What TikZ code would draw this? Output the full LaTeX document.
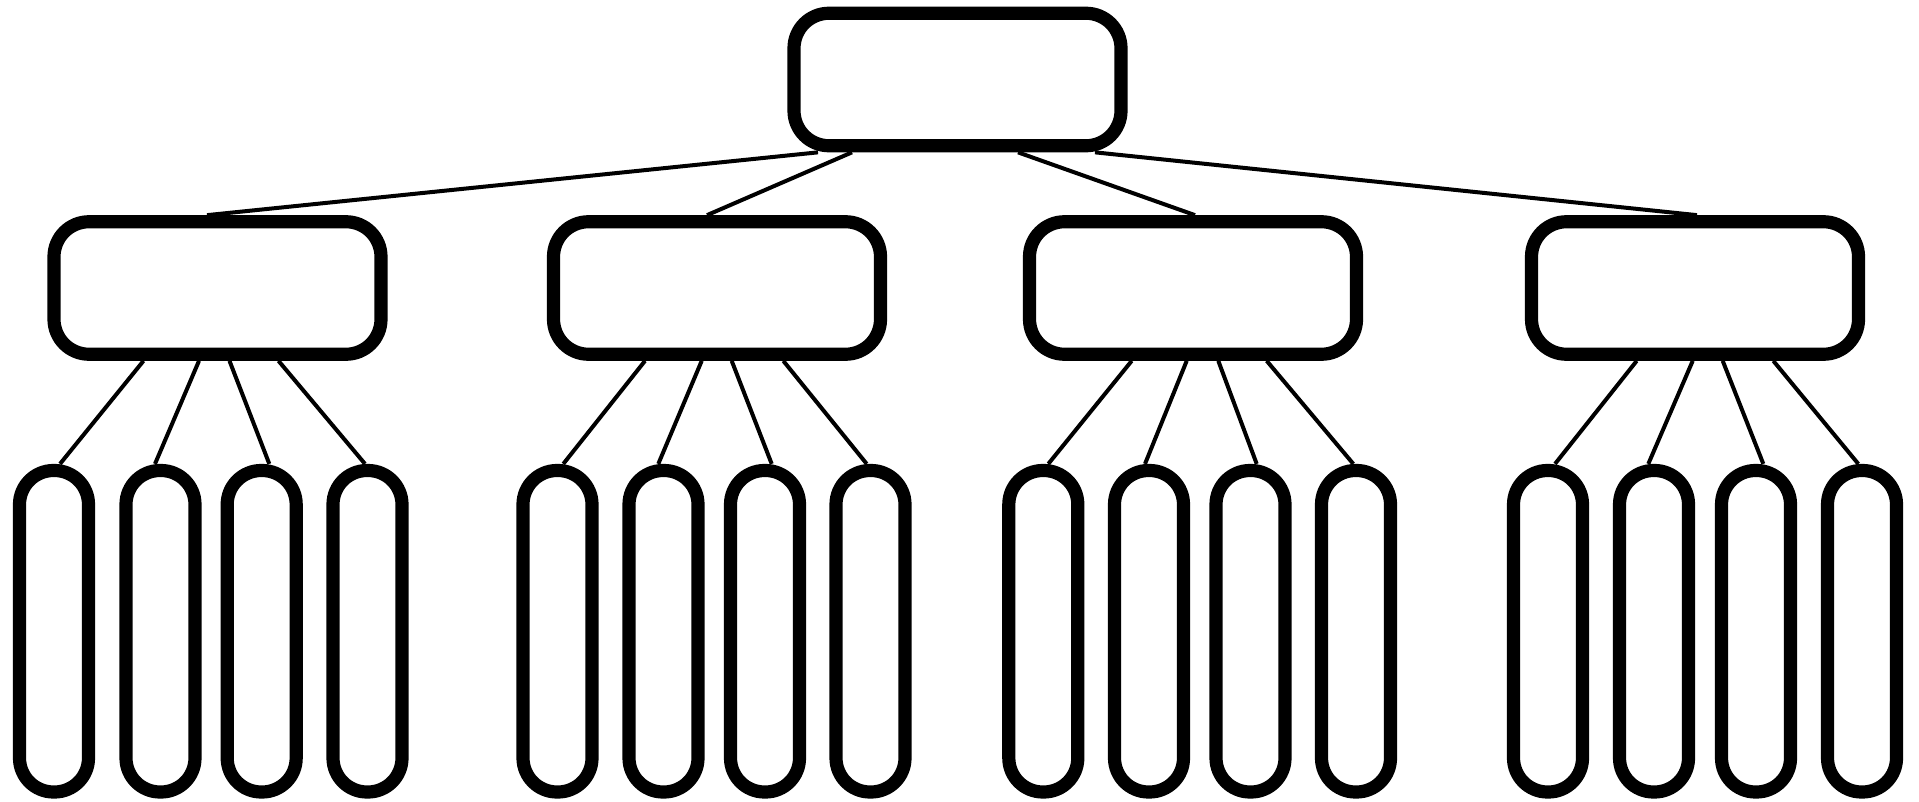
\documentclass[tikz,border=0pt]{standalone}
\begin{document}
\begin{tikzpicture}[x=1pt,y=-1pt,
  boxnode/.style={draw=black,line width=13.2pt,fill=white,rounded corners=35pt,
    minimum width=327pt,minimum height=132.5pt,inner sep=0pt},
  leafnode/.style={draw=black,line width=13.2pt,fill=white,rounded corners=34pt,
    minimum width=69pt,minimum height=321.5pt,inner sep=0pt},
  link/.style={draw=black,line width=4pt}]
\useasboundingbox[fill=white] (0,0) rectangle (1919,802);
% nodes
\node[boxnode] (root) at (957.5,79.5) {};
\node[boxnode] (m1) at (217.5,288) {};
\node[boxnode] (m2) at (717,288) {};
\node[boxnode] (m3) at (1193,288) {};
\node[boxnode] (m4) at (1695,288) {};
% leaves
\node[leafnode] (l11) at (54,631.25) {};
\node[leafnode] (l12) at (160.5,631.25) {};
\node[leafnode] (l13) at (261.7,631.25) {};
\node[leafnode] (l14) at (367.5,631.25) {};
\node[leafnode] (l21) at (557.5,631.25) {};
\node[leafnode] (l22) at (663.5,631.25) {};
\node[leafnode] (l23) at (765,631.25) {};
\node[leafnode] (l24) at (870.5,631.25) {};
\node[leafnode] (l31) at (1043.3,631.25) {};
\node[leafnode] (l32) at (1149,631.25) {};
\node[leafnode] (l33) at (1250.5,631.25) {};
\node[leafnode] (l34) at (1356,631.25) {};
\node[leafnode] (l41) at (1548,631.25) {};
\node[leafnode] (l42) at (1654,631.25) {};
\node[leafnode] (l43) at (1756,631.25) {};
\node[leafnode] (l44) at (1862,631.25) {};
% root links
\draw[link] ([xshift=-139.5pt]root.south) -- ([xshift=-10.5pt]m1.north);
\draw[link] ([xshift=-105.5pt]root.south) -- ([xshift=-10pt]m2.north);
\draw[link] ([xshift=60.5pt]root.south) -- ([xshift=2pt]m3.north);
\draw[link] ([xshift=137.5pt]root.south) -- ([xshift=2pt]m4.north);
% group 1
\draw[link] ([xshift=-74pt]m1.south) -- ([xshift=6pt]l11.north);
\draw[link] ([xshift=-18.5pt]m1.south) -- ([xshift=-5.5pt]l12.north);
\draw[link] ([xshift=12pt]m1.south) -- ([xshift=7.6pt]l13.north);
\draw[link] ([xshift=61pt]m1.south) -- ([xshift=-2.5pt]l14.north);
% group 2
\draw[link] ([xshift=-72pt]m2.south) -- ([xshift=5.8pt]l21.north);
\draw[link] ([xshift=-15.3pt]m2.south) -- ([xshift=-5.2pt]l22.north);
\draw[link] ([xshift=14.7pt]m2.south) -- ([xshift=6.7pt]l23.north);
\draw[link] ([xshift=66.3pt]m2.south) -- ([xshift=-3.8pt]l24.north);
% group 3
\draw[link] ([xshift=-61.3pt]m3.south) -- ([xshift=5pt]l31.north);
\draw[link] ([xshift=-6.3pt]m3.south) -- ([xshift=-4pt]l32.north);
\draw[link] ([xshift=25.3pt]m3.south) -- ([xshift=6.2pt]l33.north);
\draw[link] ([xshift=73.7pt]m3.south) -- ([xshift=-2.7pt]l34.north);
% group 4
\draw[link] ([xshift=-58.3pt]m4.south) -- ([xshift=7pt]l41.north);
\draw[link] ([xshift=-2.3pt]m4.south) -- ([xshift=-5.7pt]l42.north);
\draw[link] ([xshift=27.7pt]m4.south) -- ([xshift=7.3pt]l43.north);
\draw[link] ([xshift=78.3pt]m4.south) -- ([xshift=-3.7pt]l44.north);
\end{tikzpicture}
\end{document}
